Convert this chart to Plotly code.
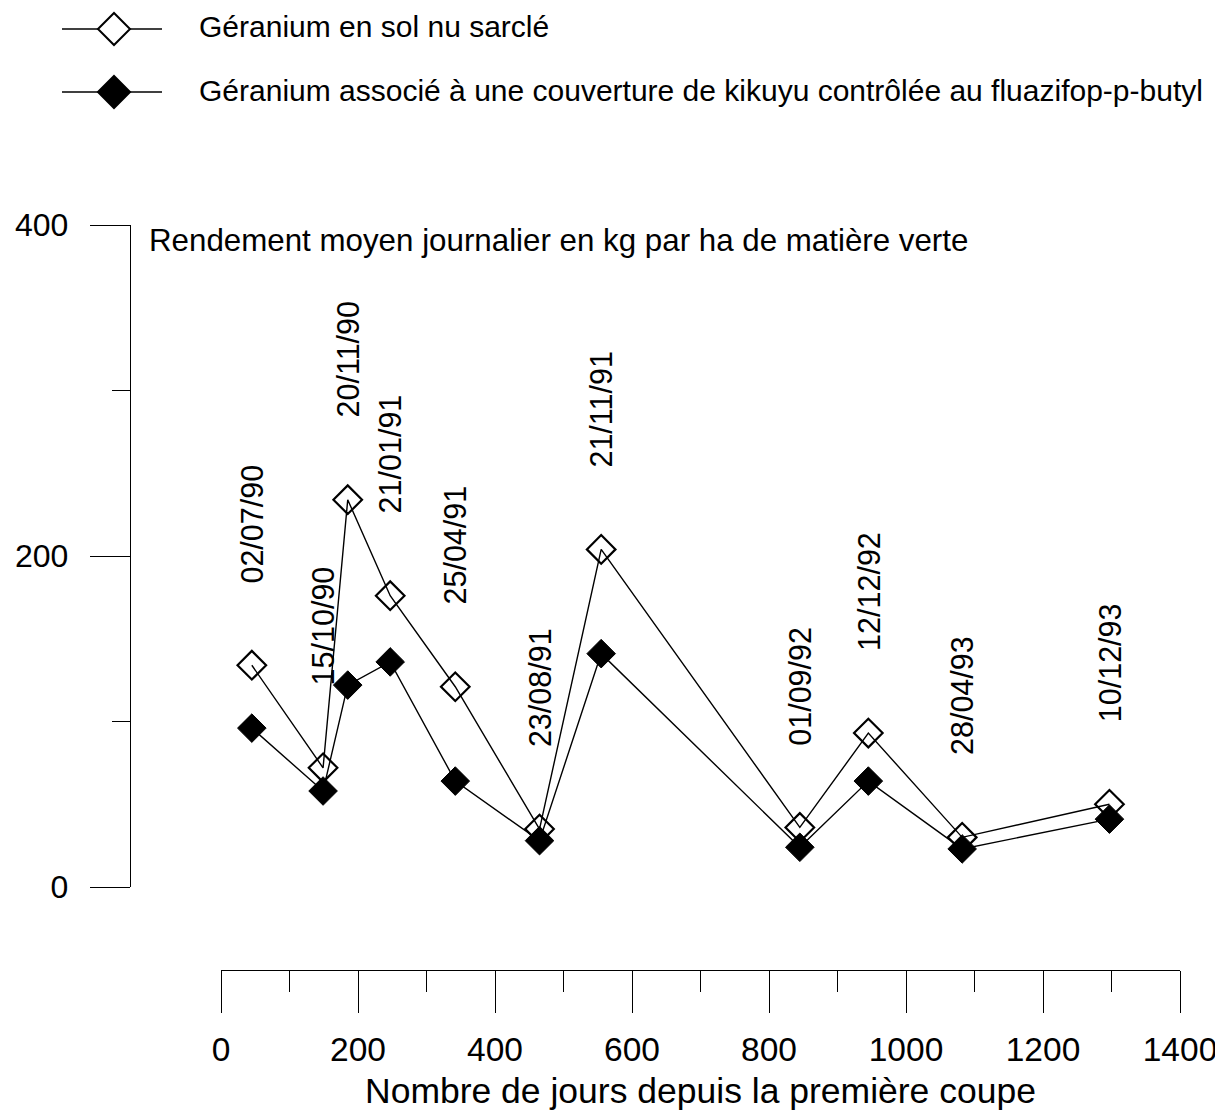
import plotly.graph_objects as go

# ---- data ----
jours = [45, 149, 185, 247, 342, 465, 555, 845, 945, 1082, 1297]
dates = ["02/07/90", "15/10/90", "20/11/90", "21/01/91", "25/04/91", "23/08/91",
         "21/11/91", "01/09/92", "12/12/92", "28/04/93", "10/12/93"]
sol_nu = [134, 72, 234, 176, 121, 35, 204, 36, 93, 30, 50]
kikuyu = [96, 58, 122, 136, 64, 28, 141, 24, 64, 23, 41]

name_sol_nu = "Géranium en sol nu sarclé"
name_kikuyu = "Géranium associé à une couverture de kikuyu contrôlée au fluazifop-p-butyl"
y_title = "Rendement moyen journalier en kg par ha de matière verte"
x_title = "Nombre de jours depuis la première coupe"

FONT = "Liberation Sans, Arial, sans-serif"
W, H = 1223, 1113
ML, MR, MT, MB = 10, 10, 10, 10
PW, PH = W - ML - MR, H - MT - MB
OFF = 8  # page offset of the figure inside the browser window


def px(x):
    return (x - OFF - ML) / PW


def py(y):
    return (H - MB - (y - OFF)) / PH


fig = go.Figure()
fig.add_trace(go.Scatter(
    x=jours, y=sol_nu, mode="lines+markers", name=name_sol_nu,
    line=dict(color="black", width=1.4),
    marker=dict(symbol="diamond-open", size=22, color="black", line=dict(width=2.2, color="black")),
    cliponaxis=False, showlegend=False))
fig.add_trace(go.Scatter(
    x=jours, y=kikuyu, mode="lines+markers", name=name_kikuyu,
    line=dict(color="black", width=1.4),
    marker=dict(symbol="diamond", size=22, color="black", line=dict(width=1, color="black")),
    cliponaxis=False, showlegend=False))

# date labels above the open diamonds
for xv, yv, d in zip(jours, sol_nu, dates):
    fig.add_annotation(x=xv, y=yv, xref="x", yref="y", text=d, showarrow=False,
                       textangle=-90, xanchor="center", yanchor="bottom", yshift=80,
                       font=dict(family=FONT, size=30.5, color="black"))

# y-axis title text
fig.add_annotation(x=px(147), y=py(240), xref="paper", yref="paper", text=y_title,
                   showarrow=False, xanchor="left", yanchor="middle",
                   font=dict(family=FONT, size=31.3, color="black"))

# x-axis title text
fig.add_annotation(x=px(700), y=py(1091), xref="paper", yref="paper", text=x_title,
                   showarrow=False, xanchor="center", yanchor="middle",
                   font=dict(family=FONT, size=35.5, color="black"))

# custom legend
legend_rows = [(name_sol_nu, 29, "white"), (name_kikuyu, 92, "black")]
for label, ypx, fill in legend_rows:
    fig.add_shape(type="line", xref="paper", yref="paper",
                  x0=px(62), x1=px(162), y0=py(ypx), y1=py(ypx),
                  line=dict(color="black", width=1.4))
    cx, r = 114, 16
    path = (f"M {px(cx - r)},{py(ypx)} L {px(cx)},{py(ypx - r)} "
            f"L {px(cx + r)},{py(ypx)} L {px(cx)},{py(ypx + r)} Z")
    fig.add_shape(type="path", xref="paper", yref="paper", path=path,
                  fillcolor=fill, line=dict(color="black", width=2))
    fig.add_annotation(x=px(197), y=py(ypx - 2), xref="paper", yref="paper", text=label,
                       showarrow=False, xanchor="left", yanchor="middle",
                       font=dict(family=FONT, size=30, color="black"))

fig.update_layout(
    template="none",
    width=W, height=H,
    margin=dict(l=ML, r=MR, t=MT, b=MB, autoexpand=False),
    paper_bgcolor="white", plot_bgcolor="white",
    font=dict(family=FONT, color="black"),
    xaxis=dict(
        domain=[px(221), px(1180)], range=[0, 1400], anchor="free", position=py(970),
        automargin=False,
        showline=True, linecolor="black", linewidth=1.4,
        showgrid=False, zeroline=False,
        ticks="outside", ticklen=42, tickwidth=1.4, tickcolor="black",
        dtick=200, tick0=0, tickfont=dict(family=FONT, size=33.5, color="black"),
        ticklabelstandoff=8,
        minor=dict(dtick=100, tick0=0, ticks="outside", ticklen=21, tickwidth=1.4, tickcolor="black"),
    ),
    yaxis=dict(
        domain=[py(887), py(225)], range=[0, 400], anchor="free", position=px(130),
        automargin=False,
        showline=True, linecolor="black", linewidth=1.4,
        showgrid=False, zeroline=False,
        ticks="outside", ticklen=40, tickwidth=1.4, tickcolor="black",
        dtick=200, tick0=0, tickfont=dict(family=FONT, size=32, color="black"),
        ticklabelstandoff=15,
        minor=dict(dtick=100, tick0=0, ticks="outside", ticklen=18, tickwidth=1.4, tickcolor="black"),
    ),
)

fig.write_html("out.html")
